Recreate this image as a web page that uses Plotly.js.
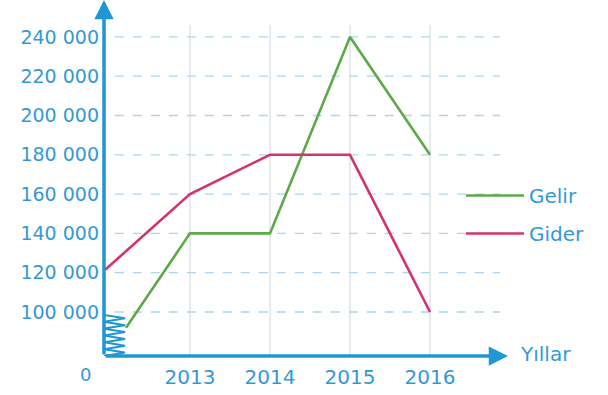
<!DOCTYPE html>
<html>
<head>
<meta charset="utf-8">
<script src="https://cdn.plot.ly/plotly-3.0.1.min.js"></script>
<style>html,body{margin:0;padding:0;background:#fff;}#chart{width:608px;height:395px;}</style>
</head>
<body>
<div id="chart"></div>
<script>
// ---- data ----
const yearTicks = [2013, 2014, 2015, 2016];
const yTicks = [100000, 120000, 140000, 160000, 180000, 200000, 220000, 240000];
const gelirX = [2012.2, 2013, 2014, 2015, 2016];
const gelirY = [92000, 140000, 140000, 240000, 180000];
const giderX = [2011.94, 2013, 2014, 2015, 2016];
const giderY = [121500, 160000, 180000, 180000, 100000];
const seriesNames = ['Gelir', 'Gider'];
const axisTitleX = 'Yıllar';
const zeroLabel = '0';

// ---- style ----
const FONT = 'DejaVu Sans, Verdana, sans-serif';
const TXT = '#3399d6';
const AXIS = '#1f97d4';
const X0 = 2011.925, X1 = 2016.975;
const Y0 = 77600, Y1 = 258780;

function fmt(v){ return String(v).replace(/\B(?=(\d{3})+(?!\d))/g, ' '); }

const traces = [
  {x: gelirX, y: gelirY, name: seriesNames[0], type: 'scatter', mode: 'lines',
   line: {color: '#5aaa4a', width: 2.6}, legendgroup: 'a'},
  {x: giderX, y: giderY, name: seriesNames[1], type: 'scatter', mode: 'lines',
   line: {color: '#d4336e', width: 2.6}, legendgroup: 'b'}
];

const shapes = [];
yTicks.forEach(v => shapes.push({type: 'line', xref: 'x', yref: 'y', x0: 2012.06, x1: 2016.875, y0: v, y1: v,
  line: {color: '#add5ef', width: 1.3, dash: 'dash'}, layer: 'below'}));
yearTicks.forEach(v => shapes.push({type: 'line', xref: 'x', yref: 'y', x0: v, x1: v, y0: Y0, y1: 246000,
  line: {color: '#d0d6dc', width: 1}, layer: 'below'}));
// axis-break zigzag
(function(){
  const xa = X0, xb = X0 + 21/80;
  const top = 98500, bot = Y0;
  const n = 12; let p = 'M ' + xa + ',' + top;
  for (let i = 1; i <= n; i++) {
    const yy = top - (top - bot) * i / n;
    p += ' L ' + (i % 2 ? xb : xa) + ',' + yy;
  }
  shapes.push({type: 'path', xref: 'x', yref: 'y', path: p, line: {color: AXIS, width: 2}});
})();

const annotations = [
  {x: X1, y: Y0, ax: X0, ay: Y0, xref: 'x', yref: 'y', axref: 'x', ayref: 'y', text: '', showarrow: true,
   arrowhead: 2, arrowsize: 1.1, arrowwidth: 3.5, arrowcolor: AXIS, standoff: 0, startstandoff: 0},
  {x: X0, y: Y1, ax: X0, ay: Y0, xref: 'x', yref: 'y', axref: 'x', ayref: 'y', text: '', showarrow: true,
   arrowhead: 2, arrowsize: 1.1, arrowwidth: 3.5, arrowcolor: AXIS, standoff: 0, startstandoff: 0},
  {x: X1, y: Y0, xref: 'x', yref: 'y', text: axisTitleX, showarrow: false, xanchor: 'left', yanchor: 'middle',
   xshift: 10, yshift: 2, font: {family: FONT, size: 20, color: TXT}},
  {x: X0, y: Y0, xref: 'x', yref: 'y', text: zeroLabel, showarrow: false, xanchor: 'center', yanchor: 'middle',
   xshift: -19, yshift: -18, font: {family: FONT, size: 18, color: TXT}}
];

const layout = {
  width: 608, height: 395,
  margin: {l: 104, r: 100, t: 0, b: 39},
  paper_bgcolor: '#fff', plot_bgcolor: '#fff',
  showlegend: true,
  legend: {x: (461-104)/404, xanchor: 'left', y: 1 - 176/356, yanchor: 'top', bgcolor: 'rgba(0,0,0,0)',
    font: {family: FONT, size: 20, color: TXT}, tracegroupgap: 9, itemwidth: 58},
  xaxis: {range: [X0, X1], tickvals: yearTicks, ticktext: yearTicks.map(String), showgrid: false, zeroline: false,
    showline: false, ticks: '', tickfont: {family: FONT, size: 20, color: TXT}, ticklabelstandoff: 7, fixedrange: true},
  yaxis: {range: [Y0, Y1], tickvals: yTicks, ticktext: yTicks.map(fmt), showgrid: false, zeroline: false,
    showline: false, ticks: '', tickfont: {family: FONT, size: 19, color: TXT}, ticklabelstandoff: 4, fixedrange: true},
  shapes: shapes, annotations: annotations
};

Plotly.newPlot('chart', traces, layout, {displayModeBar: false, staticPlot: true});
</script>
</body>
</html>
